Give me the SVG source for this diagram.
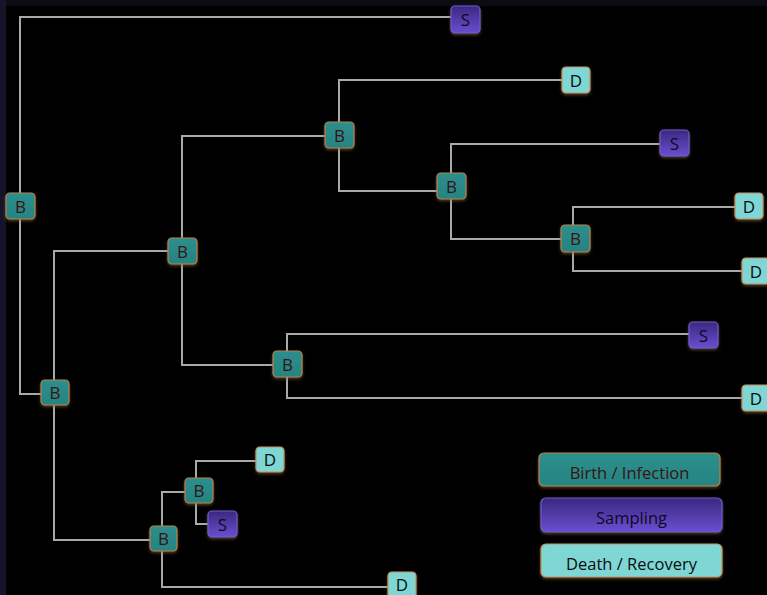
<svg xmlns="http://www.w3.org/2000/svg" width="767" height="595" viewBox="0 0 767 595">
<defs>
<linearGradient id="gS" x1="0" y1="0" x2="0" y2="1">
<stop offset="0" stop-color="#3a2880"/>
<stop offset="1" stop-color="#6a4fd0"/>
</linearGradient>
<linearGradient id="gB" x1="0" y1="0" x2="0" y2="1">
<stop offset="0" stop-color="#2b8f8d"/>
<stop offset="1" stop-color="#268482"/>
</linearGradient>
<filter id="glow" x="-30%" y="-30%" width="160%" height="170%">
<feDropShadow dx="0" dy="1.5" stdDeviation="1.5" flood-color="#8a6a3a" flood-opacity="0.6"/>
</filter>
<style>
.ln{fill:none;stroke:#a9a9a9;stroke-width:2}
.b{fill:url(#gB);stroke:#b8804e;stroke-width:1.2;filter:url(#glow)}
.s{fill:url(#gS);stroke:#6d5ad0;stroke-width:1.2;filter:url(#glow)}
.d{fill:#7ed7d4;stroke:#c49262;stroke-width:1.2;filter:url(#glow)}
.t{font-family:"Open Sans","Liberation Sans",sans-serif;font-size:17px;text-anchor:middle;dominant-baseline:central}
.tb{fill:#3a1212}
.ts{fill:#100824}
.td{fill:#0c0c0c}
.lg{font-family:"Open Sans","Liberation Sans",sans-serif;font-size:16.5px;text-anchor:middle;dominant-baseline:central}
</style>
</defs>
<rect x="0" y="0" width="767" height="595" fill="#000"/>
<rect x="0" y="0" width="767" height="6" fill="#0b0c14"/>
<rect x="0" y="0" width="6" height="595" fill="#15142a"/>
<g id="connectors">
<path class="ln" d="M465,17 H20 V394 H45"/>
<path class="ln" d="M182,251 H54 V540 H160"/>
<path class="ln" d="M340,136 H182 V365 H287"/>
<path class="ln" d="M576,80 H339 V191 H451"/>
<path class="ln" d="M674,144 H451 V239 H574"/>
<path class="ln" d="M749,207 H573 V271 H756"/>
<path class="ln" d="M703,334 H287 V398 H755"/>
<path class="ln" d="M199,492 H162 V587 H402"/>
<path class="ln" d="M270,461 H196 V524 H222"/>
</g>
<g id="n_s1"><rect class="s" x="451" y="6" width="29" height="27" rx="4"/><text class="t ts" x="465.5" y="19.5">S</text></g>
<g id="n_d1"><rect class="d" x="562" y="67" width="28" height="26" rx="4"/><text class="t td" x="576" y="80">D</text></g>
<g id="n_b340"><rect class="b" x="325" y="122" width="29" height="26" rx="4"/><text class="t tb" x="339.5" y="135">B</text></g>
<g id="n_s674"><rect class="s" x="660" y="130" width="29" height="26" rx="4"/><text class="t ts" x="674.5" y="143">S</text></g>
<g id="n_b451"><rect class="b" x="437" y="173" width="29" height="26" rx="4"/><text class="t tb" x="451.5" y="186">B</text></g>
<g id="n_d749"><rect class="d" x="735" y="193" width="28" height="26" rx="4"/><text class="t td" x="749" y="206">D</text></g>
<g id="n_b574"><rect class="b" x="561" y="225" width="29" height="27" rx="4"/><text class="t tb" x="575.5" y="238.5">B</text></g>
<g id="n_d756"><rect class="d" x="742" y="258" width="28" height="26" rx="4"/><text class="t td" x="756" y="271">D</text></g>
<g id="n_root"><rect class="b" x="6" y="193" width="29" height="26" rx="4"/><text class="t tb" x="20.5" y="206">B</text></g>
<g id="n_b182"><rect class="b" x="168" y="238" width="29" height="26" rx="4"/><text class="t tb" x="182.5" y="251">B</text></g>
<g id="n_s703"><rect class="s" x="689" y="322" width="29" height="26" rx="4"/><text class="t ts" x="703.5" y="335">S</text></g>
<g id="n_b287"><rect class="b" x="273" y="351" width="29" height="26" rx="4"/><text class="t tb" x="287.5" y="364">B</text></g>
<g id="n_d755"><rect class="d" x="742" y="385" width="28" height="26" rx="4"/><text class="t td" x="756" y="398">D</text></g>
<g id="n_b55"><rect class="b" x="41" y="380" width="28" height="25" rx="4"/><text class="t tb" x="55" y="392.5">B</text></g>
<g id="n_d270"><rect class="d" x="256" y="447" width="28" height="25" rx="4"/><text class="t td" x="270" y="459.5">D</text></g>
<g id="n_b199"><rect class="b" x="185" y="478" width="28" height="25" rx="4"/><text class="t tb" x="199" y="490.5">B</text></g>
<g id="n_s222"><rect class="s" x="208" y="511" width="29" height="26" rx="4"/><text class="t ts" x="222.5" y="524">S</text></g>
<g id="n_b163"><rect class="b" x="150" y="526" width="27" height="25" rx="4"/><text class="t tb" x="163.5" y="538.5">B</text></g>
<g id="n_d402"><rect class="d" x="388" y="572" width="28" height="28" rx="4"/><text class="t td" x="402" y="584">D</text></g>
<g id="legend_birth"><rect class="b" x="539" y="453" width="181" height="33" rx="5"/><text class="lg tb" x="629.5" y="472">Birth / Infection</text></g>
<g id="legend_sampling"><rect class="s" x="541" y="498" width="181" height="34" rx="5"/><text class="lg ts" x="631.5" y="517">Sampling</text></g>
<g id="legend_death"><rect class="d" x="541" y="544" width="181" height="33" rx="5"/><text class="lg td" x="631.5" y="563">Death / Recovery</text></g>
</svg>
